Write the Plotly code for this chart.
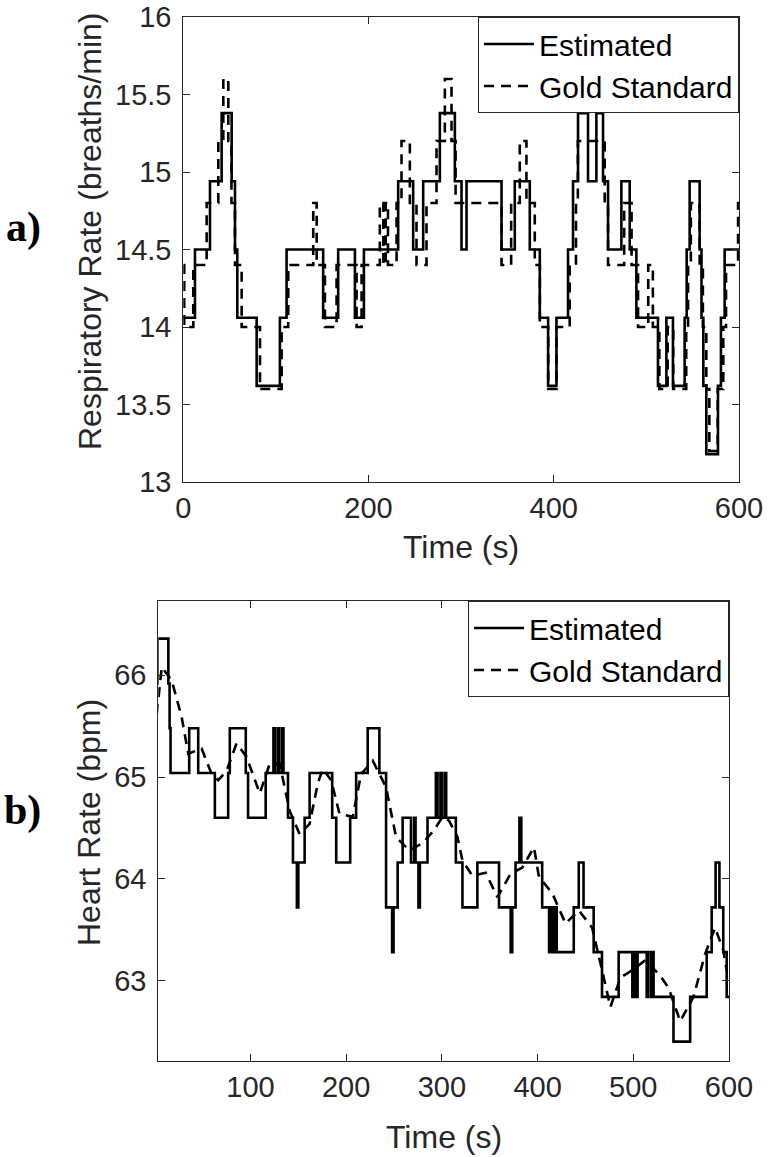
import plotly.graph_objects as go

# ---------------- Data: (a) Respiratory rate ----------------
rr_est_t = [0, 12.6, 28.8, 41.4, 52.2, 55.8, 58.3, 79.2, 104.3, 111.5, 151, 167.2, 185.3, 195,
            232, 248.2, 259, 277, 293.2, 300.4, 305.8, 343.6, 357.9, 374.1, 384.9, 393.9, 402.9,
            415.4, 420.8, 426.2, 437, 446, 453.2, 458.6, 473, 482, 489.2, 512.5, 521.6, 528.7,
            541.3, 543.5, 546.7, 557.5, 559.5, 561.5, 564.7, 577.3, 580.5, 584.5, 600]
rr_est_v = [14.06, 14.5, 14.94, 15.38, 14.94, 14.5, 14.06, 13.62, 14.06, 14.5, 14.06, 14.5, 14.06, 14.5,
            14.94, 14.5, 14.94, 15.38, 14.94, 14.5, 14.94, 14.5, 14.94, 14.5, 14.06, 13.62, 14.06,
            14.5, 14.94, 15.38, 14.94, 15.38, 14.94, 14.5, 14.94, 14.5, 14.06, 13.62, 14.06, 13.62,
            14.06, 14.5, 14.94, 14.5, 14.06, 13.62, 13.18, 13.62, 14.06, 14.5, 14.5]

rr_gold_t = [0, 1, 10.8, 25.2, 37.8, 43.2, 48.6, 52, 55.8, 63, 82.8, 106.2, 113.3, 140.3, 144, 152.9,
             165.5, 187.1, 192.5, 212.2, 216, 218.5, 221, 230.3, 235.6, 244.6, 251.8, 262.6, 273.4,
             282.4, 289.6, 294, 343.6, 354, 363.3, 370.5, 379.5, 385, 394, 403, 417.2, 424, 426,
             455, 458.6, 476, 484, 491, 502, 507, 514, 523, 529, 543, 545, 548, 557.5, 561, 564.7,
             568, 577, 583, 586, 599, 600]
rr_gold_v = [14.4, 14.0, 14.4, 14.8, 15.2, 15.6, 15.2, 14.8, 14.4, 14.0, 13.6, 14.0, 14.4, 14.8, 14.4, 14.0,
             14.4, 14.0, 14.4, 14.8, 14.4, 14.8, 14.4, 14.8, 15.2, 14.8, 14.4, 14.8, 15.2,
             15.6, 15.2, 14.8, 14.4, 14.8, 15.2, 14.8, 14.4, 14.0, 13.6, 14.0, 14.4, 14.8, 15.2,
             14.8, 14.4, 14.8, 14.4, 14.0, 14.4, 14.0, 13.6, 14.0, 13.6, 14.0, 14.4, 14.8, 14.4, 14.0, 13.6,
             13.2, 13.6, 14.0, 14.4, 14.8, 14.8]

# ---------------- Data: (b) Heart rate ----------------
hr_est_t = [2, 3, 14.2, 15.5, 16.5, 36, 45.4, 62.8, 76.7, 78.4, 95.1, 97.5, 115.9, 124, 125.5,
            128.5, 130, 133, 134.5, 139.2, 144.4, 148.5, 150, 156.6, 161.8, 185.4, 189.6,
            204.2, 210.4, 222.5, 234.7, 241.7, 248, 249.5, 253.8, 259, 267.7, 271, 272.5, 275.5,
            277, 285, 293.7, 295.5, 298.5, 300, 303, 304.5, 314.6, 321.5, 337.1, 359.7,
            371.9, 373.5, 377, 381, 383, 404.8, 412, 413.5, 416, 417.5, 420, 437.8, 443, 448, 458.6,
            467.3, 484.7, 499, 500.5, 503, 504.5, 514, 515.5, 518.5, 519.5, 521.2, 542,
            559.4, 576.7, 581.9, 586, 590, 594, 597.6, 600]
hr_est_v = [65.92, 66.36, 65.92, 65.48, 65.04, 65.48, 65.04, 64.60, 65.04, 65.48, 65.04, 64.60, 65.04, 65.48, 65.04,
            65.48, 65.04, 65.48, 65.04, 64.60, 64.16, 63.72, 64.16, 64.60, 65.04, 64.60, 64.16,
            64.60, 65.04, 65.48, 65.04, 63.72, 63.28, 63.72, 64.16, 64.60, 64.16, 64.60, 64.16, 63.72,
            64.16, 64.60, 65.04, 64.60, 65.04, 64.60, 65.04, 64.60, 64.16, 63.72, 64.16, 63.72,
            63.28, 63.72, 64.16, 64.60, 64.16, 63.72, 63.28, 63.72, 63.28, 63.72, 63.28, 63.72, 64.16, 63.72, 63.28,
            62.84, 63.28, 62.84, 63.28, 62.84, 63.28, 62.84, 63.28, 62.84, 63.28, 62.84, 62.40,
            62.84, 63.28, 63.72, 64.16, 63.72, 63.28, 62.84, 62.84]

hr_gold_t = [2.1, 7.3, 17.7, 28.1, 35, 49, 59.4, 66.3, 75, 85.4, 95.8, 109.7, 120.1, 130.5, 140.9,
             151.3, 161.8, 170.4, 175.6, 184.3, 193, 206.9, 215.6, 227.8, 241.7, 252.1, 266, 279.9,
             292, 300.7, 307.6, 316.3, 321.5, 331.9, 345.8, 358, 371.9, 384, 396.2, 401.4, 415.3,
             429.2, 443.1, 457, 467.4, 476.1, 486.5, 498.6, 512.5, 528.1, 536.8, 549, 562.9, 575,
             585.4, 594, 597.6]
hr_gold_v = [65.62, 66.08, 65.95, 65.59, 65.23, 65.28, 65.03, 64.97, 65.06, 65.33, 65.2, 64.84, 65.13, 65.13, 64.67,
             64.44, 64.54, 64.94, 65.08, 64.97, 64.64, 64.61, 65.03, 65.16, 64.9, 64.41, 64.28, 64.35,
             64.48, 64.61, 64.57, 64.41, 64.18, 64.03, 64.06, 63.82, 64.05, 64.11, 64.31, 64.02, 63.86,
             63.56, 63.69, 63.52, 63.1, 62.74, 63.03, 63.1, 63.2, 63.05, 62.93, 62.6, 62.84, 63.26,
             63.52, 63.3, 63.1]

rr_xticks = [0, 200, 400, 600]
rr_yticks = [13, 13.5, 14, 14.5, 15, 15.5, 16]
rr_yticktext = ["13", "13.5", "14", "14.5", "15", "15.5", "16"]
hr_xticks = [100, 200, 300, 400, 500, 600]
hr_yticks = [63, 64, 65, 66]

# ---------------- Figure ----------------
W, H = 776, 1157
def px(x):
    return x / W
def py(y):
    return 1 - y / H

FONT = "Liberation Sans, Arial, Helvetica, sans-serif"
TXT = "#262626"
LW = 2.6
DASH = "10px,7px"

fig = go.Figure()
fig.add_trace(go.Scatter(x=rr_est_t, y=rr_est_v, mode="lines", line_shape="hv", name="Estimated",
                         line=dict(color="black", width=LW), xaxis="x", yaxis="y", legend="legend"))
fig.add_trace(go.Scatter(x=rr_gold_t, y=rr_gold_v, mode="lines", line_shape="hv", name="Gold Standard",
                         line=dict(color="black", width=LW, dash=DASH), xaxis="x", yaxis="y", legend="legend"))
fig.add_trace(go.Scatter(x=hr_est_t, y=hr_est_v, mode="lines", line_shape="hv", name="Estimated",
                         line=dict(color="black", width=LW), xaxis="x2", yaxis="y2", legend="legend2"))
fig.add_trace(go.Scatter(x=hr_gold_t, y=hr_gold_v, mode="lines", name="Gold Standard",
                         line=dict(color="black", width=LW, dash=DASH), xaxis="x2", yaxis="y2", legend="legend2"))

axis_common = dict(showline=True, linecolor=TXT, linewidth=1, mirror="ticks", ticks="inside",
                   ticklen=7, tickcolor=TXT, tickwidth=1, showgrid=False, zeroline=False,
                   automargin=False, tickfont=dict(family=FONT, size=29, color=TXT))

legend_common = dict(bgcolor="white", bordercolor=TXT, borderwidth=1,
                     font=dict(family=FONT, size=30, color="black"),
                     tracegroupgap=0, itemwidth=50, xanchor="right", yanchor="top")

fig.update_layout(
    width=W, height=H, margin=dict(l=0, r=0, t=0, b=0, autoexpand=False),
    paper_bgcolor="white", plot_bgcolor="white", showlegend=True,
    xaxis=dict(domain=[px(183.3), px(739)], range=[0, 600], tickvals=rr_xticks, anchor="y", **axis_common),
    yaxis=dict(domain=[py(482), py(17)], range=[13, 16], tickvals=rr_yticks, ticktext=rr_yticktext,
               anchor="x", ticklabelstandoff=5, **axis_common),
    xaxis2=dict(domain=[px(158.3), px(729)], range=[3.7, 600], tickvals=hr_xticks, anchor="y2", **axis_common),
    yaxis2=dict(domain=[py(1061), py(601)], range=[62.21, 66.73], tickvals=hr_yticks, anchor="x2",
                ticklabelstandoff=5, **axis_common),
    legend=dict(x=px(739), y=py(17), **legend_common),
    legend2=dict(x=px(729), y=py(601), **legend_common),
)

ann_font = dict(family=FONT, size=32, color=TXT)
lab_font = dict(family="Liberation Serif, Times New Roman, serif", size=42, color="black")
annotations = [
    dict(text="Time (s)", x=px(461), y=py(547), xref="paper", yref="paper", showarrow=False,
         xanchor="center", yanchor="middle", font=ann_font),
    dict(text="Time (s)", x=px(443.6), y=py(1137), xref="paper", yref="paper", showarrow=False,
         xanchor="center", yanchor="middle", font=ann_font),
    dict(text="Respiratory Rate (breaths/min)", x=px(90), y=py(232), xref="paper", yref="paper",
         showarrow=False, textangle=-90, xanchor="center", yanchor="middle", font=ann_font),
    dict(text="Heart Rate (bpm)", x=px(89), y=py(823), xref="paper", yref="paper",
         showarrow=False, textangle=-90, xanchor="center", yanchor="middle", font=ann_font),
    dict(text="<b>a)</b>", x=px(23), y=py(228), xref="paper", yref="paper", showarrow=False,
         xanchor="center", yanchor="middle", font=lab_font),
    dict(text="<b>b)</b>", x=px(22), y=py(810), xref="paper", yref="paper", showarrow=False,
         xanchor="center", yanchor="middle", font=lab_font),
]
fig.update_layout(annotations=annotations)

fig.write_html("out.html", config={"displayModeBar": False},
               post_script="document.body.style.margin='0px';document.body.style.padding='0px';")
